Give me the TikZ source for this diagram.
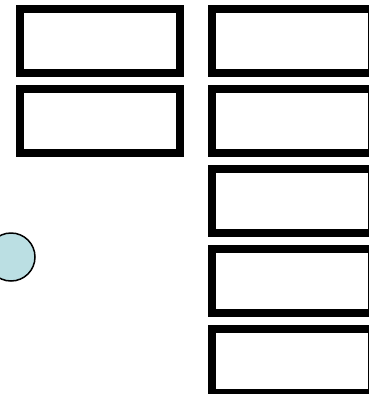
\documentclass[tikz,border=0pt]{standalone}
\definecolor{circfill}{RGB}{187,223,227}
\begin{document}
\begin{tikzpicture}[x=1pt,y=-1pt,
  slot/.style={draw=black,line width=8pt,fill=white,rectangle,minimum width=160pt,minimum height=64pt,inner sep=0pt,outer sep=0pt},
  token/.style={draw=black,line width=1.5pt,fill=circfill,circle,minimum size=48pt,inner sep=0pt}]
\useasboundingbox (0,0) rectangle (369,394);
\clip (0,0) rectangle (369,394);
\node[slot] (l1) at (100,41) {};
\node[slot] (l2) at (100,121) {};
\node[slot] (r1) at (292,41) {};
\node[slot] (r2) at (292,121) {};
\node[slot] (r3) at (292,201) {};
\node[slot] (r4) at (292,281) {};
\node[slot] (r5) at (292,361) {};
\node[token] (c) at (11,257) {};
\end{tikzpicture}
\end{document}
